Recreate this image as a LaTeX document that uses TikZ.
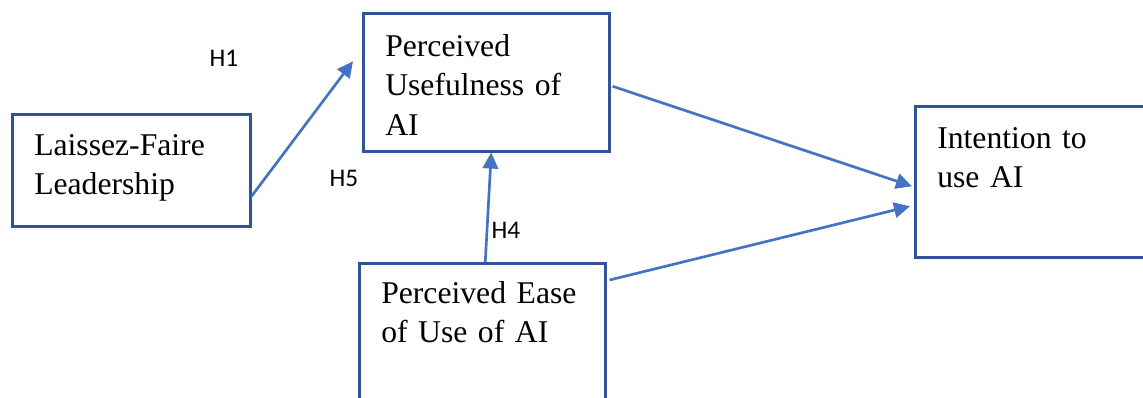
\documentclass[tikz,border=0pt]{standalone}
\usepackage{fontspec}
\setmainfont{Liberation Serif}
\newfontfamily\hypfont{Carlito}
\usepackage{tikz}
\usetikzlibrary{arrows.meta}

\definecolor{boxblue}{HTML}{2F5597}
\definecolor{arrowblue}{HTML}{4472C4}

\begin{document}
\begin{tikzpicture}[x=0.75pt,y=-0.75pt]
      \useasboundingbox (0,0) rectangle (1143,398);

      \begin{scope}[every node/.style={rectangle,draw=boxblue,line width=1.9pt,anchor=north west,
          align=left,inner xsep=16.5pt,inner ysep=0pt,font=\fontsize{23.75}{29.6}\selectfont}]
        \node[text width=145.5pt,text height=30.75pt,text depth=53.25pt] (lf) at (11,113) {Laissez-Faire\\Leadership};
        \node[text width=151.5pt,text height=32.25pt,text depth=71.25pt] (pu) at (362,12) {Perceived\\Usefulness of\\AI};
        \node[text width=177pt,text height=31.5pt,text depth=81.75pt] (it) at (914,105) {Intention to\\use AI};
        \node[text width=151.5pt,text height=30pt,text depth=82.5pt] (pe) at (358,262) {Perceived Ease\\of Use of AI};
      \end{scope}

      \begin{scope}[every node/.style={font=\hypfont\fontsize{19}{23}\selectfont}]
        \node (h1) at (224,58) {H1};
        \node (h5) at (344,178) {H5};
        \node (h4) at (506,230) {H4};
      \end{scope}

      \begin{scope}[>={Triangle[length=12pt,width=11.5pt]},
          every edge/.style={draw=arrowblue,line width=2pt}]
        \path [->] ([shift={(0,26)}]lf.east) edge ([shift={(-9,-21)}]pu.west);
        \path [->] ([shift={(2,4)}]pu.east) edge ([shift={(-2,4.5)}]it.west);
        \path [->] ([shift={(3,18)}]pe.north east) edge ([shift={(-4,24.5)}]it.west);
        \path [->] ([shift={(3,0)}]pe.north) edge ([shift={(5,0)}]pu.south);
      \end{scope}
    \end{tikzpicture}
\end{document}
